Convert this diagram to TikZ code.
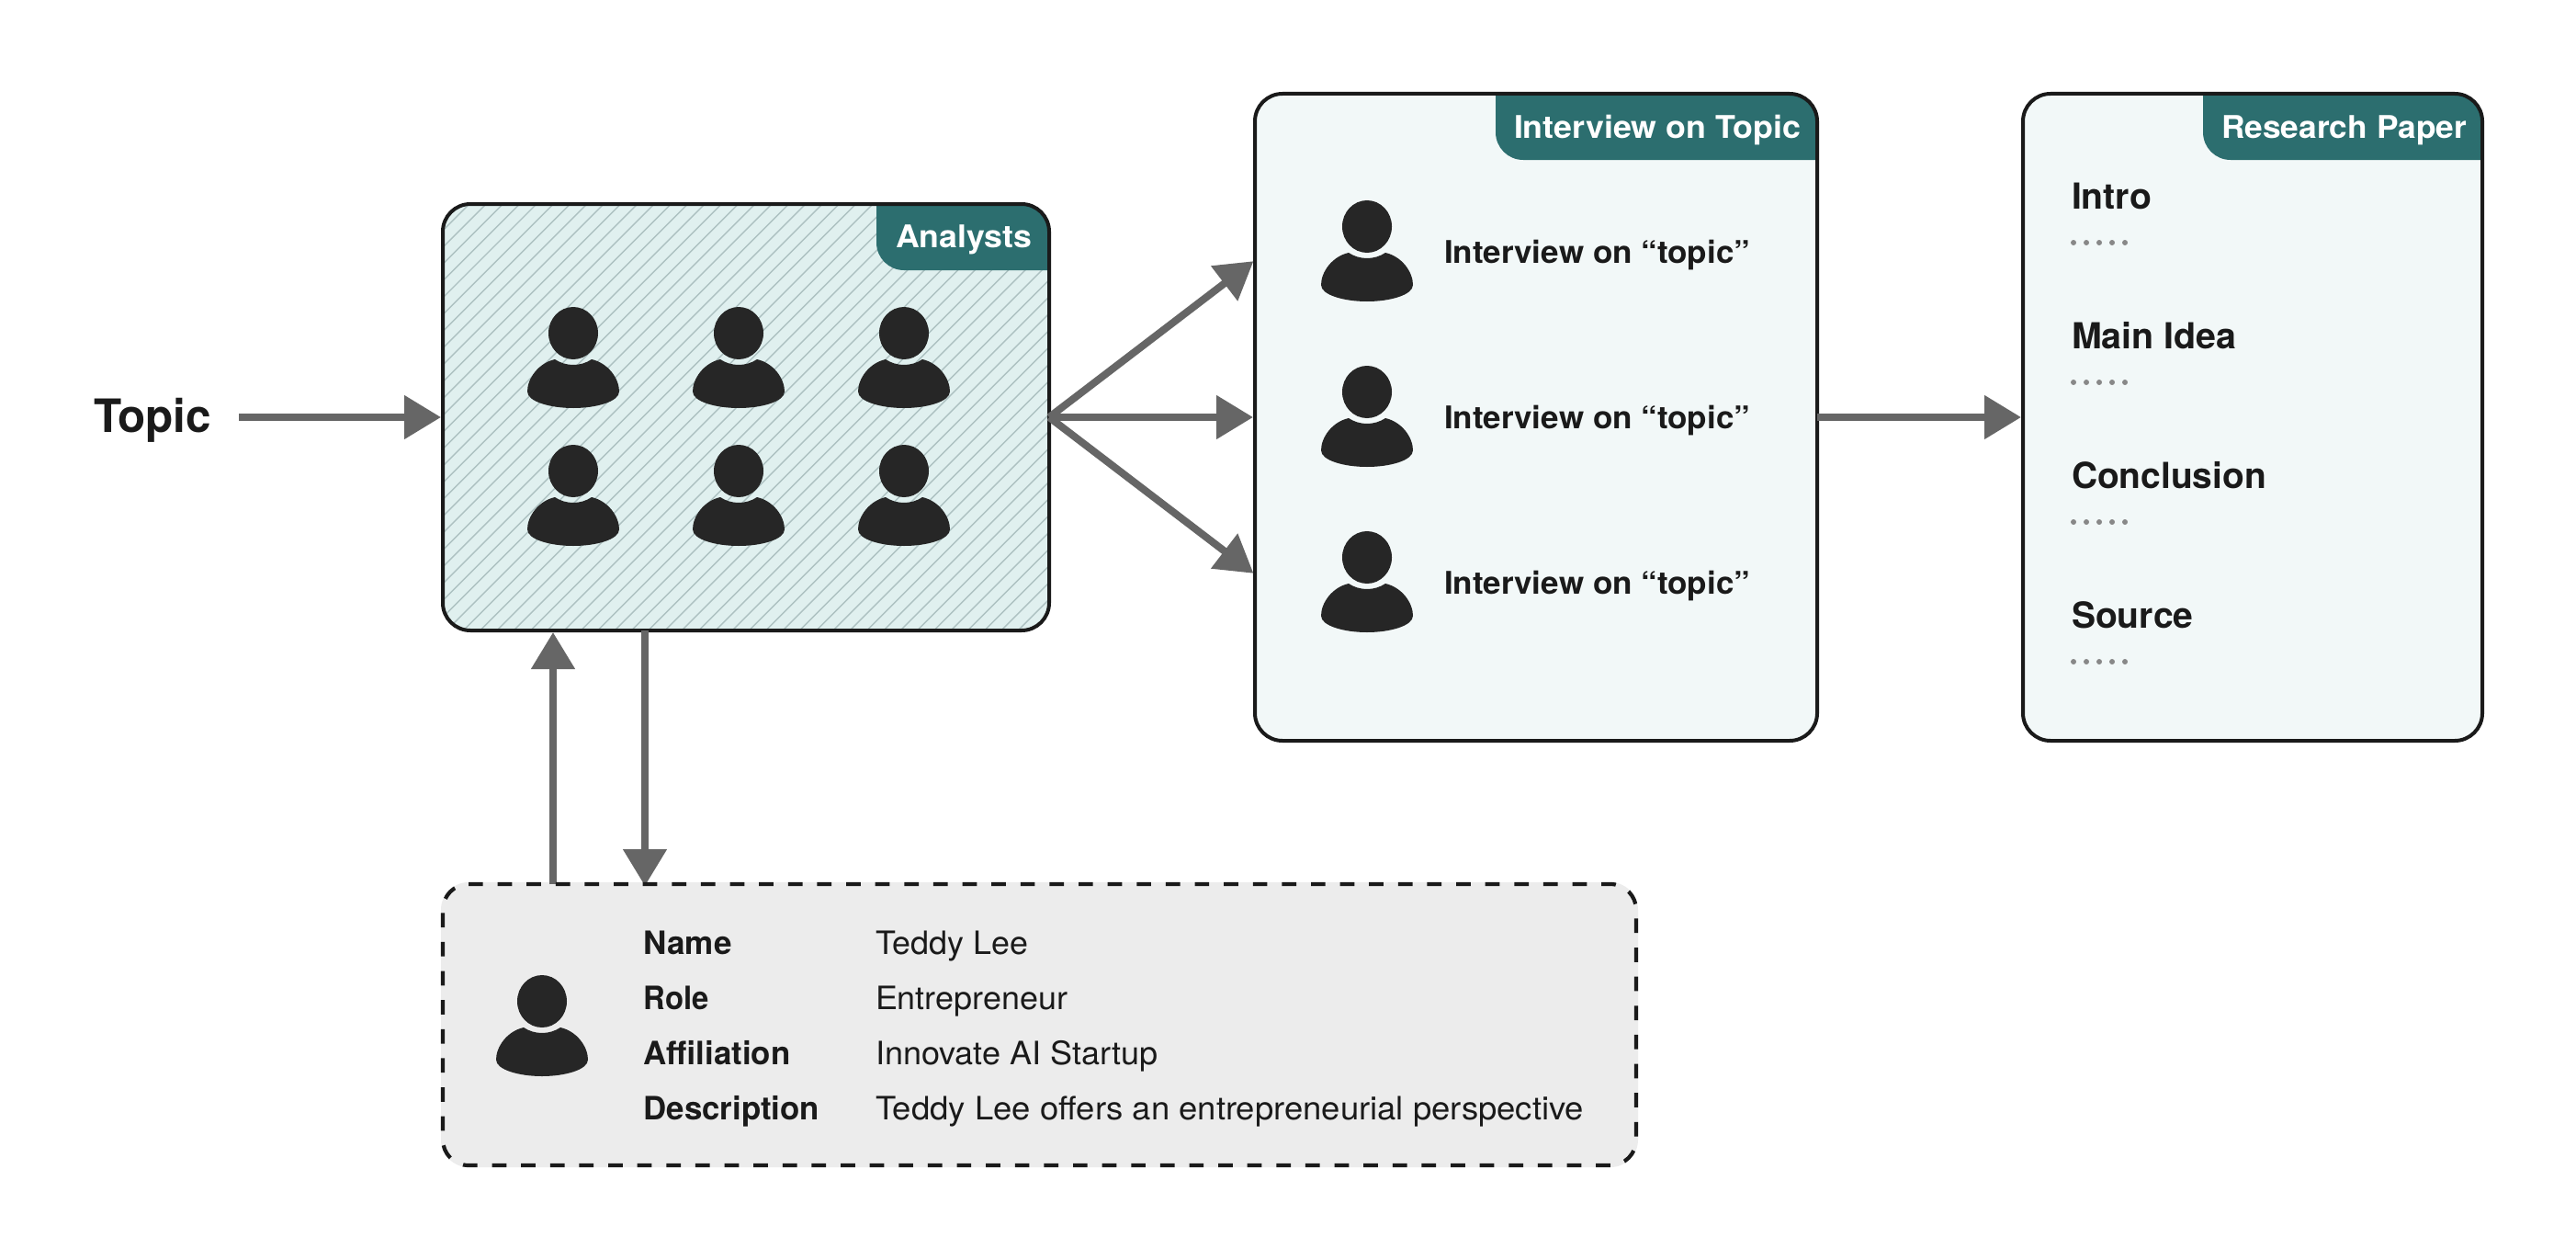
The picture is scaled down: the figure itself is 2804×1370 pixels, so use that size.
\documentclass[tikz,border=0pt]{standalone}
\usepackage{fontspec}
\usepackage{graphicx}
\usetikzlibrary{arrows.meta}
\setmainfont{TeX Gyre Heros}
\newcommand{\semi}{\bfseries}
\definecolor{ink}{HTML}{1A1A1A}
\definecolor{iconc}{HTML}{262626}
\definecolor{tealc}{HTML}{2C6E6F}
\definecolor{paper}{HTML}{F2F8F8}
\definecolor{hatchbg}{HTML}{E0F0EF}
\definecolor{hatchln}{HTML}{ADC1C1}
\definecolor{arrowc}{HTML}{666666}
\definecolor{greyc}{HTML}{ECECEC}
\definecolor{dotc}{HTML}{888888}
\newcommand{\fitw}[3]{\resizebox{#1pt}{\height}{\fontsize{#2}{#2}\selectfont #3}}
\tikzset{
  x=1pt,y=-1pt,
  card/.style={rectangle,rounded corners=30pt,line width=4pt,draw=ink,inner sep=0pt,outer sep=0pt},
  txt/.style={anchor=base west,inner sep=0pt,outer sep=0pt,text=ink},
  tabtxt/.style={anchor=base west,inner sep=0pt,outer sep=0pt,text=white},
  conn/.style={draw=arrowc,line width=8pt,-{Triangle[length=40pt,width=46pt]},shorten >=2pt},
  person/.pic={
    \fill[iconc] (0,28.5) ellipse [x radius=27,y radius=28.5];
    \fill[iconc] (-20,57) .. controls (-8,65) and (8,65) .. (20,57)
      .. controls (38,61) and (50,78) .. (50,92)
      .. controls (50,103) and (25,110) .. (0,110)
      .. controls (-25,110) and (-50,103) .. (-50,92)
      .. controls (-50,78) and (-38,61) .. (-20,57) -- cycle;
  }
}
\begin{document}
\begin{tikzpicture}
\useasboundingbox (0,0) rectangle (2804,1370);
\fill[white] (0,0) rectangle (2804,1370);

% Analysts
\begin{scope}
  \clip[rounded corners=30pt] (482,222) rectangle (1142,686);
  \fill[hatchbg] (482,222) rectangle (1142,686);
  \foreach \k in {0,...,62}{
    \draw[hatchln,line width=1.4pt] ({1143+\k*18.3-18.3*62+8.3},222) -- ++(-470,470);
  }
  \foreach \k in {1,...,30}{
    \draw[hatchln,line width=1.4pt] ({1143+\k*18.3+8.3},222) -- ++(-470,470);
  }
  \fill[tealc] (1150,215) -- (954,215) [rounded corners=30pt] -- (954,294) [sharp corners] -- (1150,294) -- cycle;
\end{scope}
\node[card,minimum width=660pt,minimum height=464pt] (analysts) at (812,454) {};
\node[tabtxt] (analyststab) at (975,269) {\fitw{148}{34}{\semi Analysts}};
\foreach \cx/\nm in {624/a,804/b,984/c}{
  \pic (p1\nm) at (\cx,334) {person};
  \pic (p2\nm) at (\cx,484) {person};
}

% Interview
\begin{scope}
  \clip[rounded corners=30pt] (1366,102) rectangle (1978,806);
  \fill[paper] (1366,102) rectangle (1978,806);
  \fill[tealc] (1985,95) -- (1628,95) [rounded corners=30pt] -- (1628,174) [sharp corners] -- (1985,174) -- cycle;
\end{scope}
\node[card,minimum width=612pt,minimum height=704pt] (interview) at (1672,454) {};
\node[tabtxt] (interviewtab) at (1648,150) {\fitw{312}{34}{\semi Interview on Topic}};
\foreach \yy/\nm in {218/a,398/b,578/c}{
  \pic (q\nm) at (1488,\yy) {person};
}
\node[txt] (i1) at (1572,286) {\fitw{333}{34}{\semi Interview on “topic”}};
\node[txt] (i2) at (1572,466) {\fitw{333}{34}{\semi Interview on “topic”}};
\node[txt] (i3) at (1572,646) {\fitw{333}{34}{\semi Interview on “topic”}};

% Research
\begin{scope}
  \clip[rounded corners=30pt] (2202,102) rectangle (2702,806);
  \fill[paper] (2202,102) rectangle (2702,806);
  \fill[tealc] (2710,95) -- (2398,95) [rounded corners=30pt] -- (2398,174) [sharp corners] -- (2710,174) -- cycle;
\end{scope}
\node[card,minimum width=500pt,minimum height=704pt] (research) at (2452,454) {};
\node[tabtxt] (researchtab) at (2418,150) {\fitw{267}{34}{\semi Research Paper}};
\node[txt] (s1) at (2255,227) {\fitw{87}{39}{\semi Intro}};
\node[txt] (s2) at (2255,379) {\fitw{179.5}{39}{\semi Main Idea}};
\node[txt] (s3) at (2255,531) {\fitw{212}{39}{\semi Conclusion}};
\node[txt] (s4) at (2255,683) {\fitw{132.5}{39}{\semi Source}};
\foreach \yy in {264,416,568,720}{
  \foreach \k in {0,...,4}{
    \fill[dotc] ({2257+14*\k},\yy) circle (3);
  }
}

% Profile
\node[rectangle,rounded corners=30pt,fill=greyc,inner sep=0pt,outer sep=0pt,minimum width=1303pt,minimum height=310pt] (profile) at (1131.5,1115) {};
\pic (pp) at (590,1061) {person};
\node[txt] (l1) at (700.5,1038) {\fitw{96}{35}{\semi Name}};
\node[txt] (l2) at (700.5,1098) {\fitw{71}{35}{\semi Role}};
\node[txt] (l3) at (700.5,1158) {\fitw{160}{35}{\semi Affiliation}};
\node[txt] (l4) at (700.5,1218) {\fitw{191.5}{35}{\semi Description}};
\node[txt] (v1) at (953,1038) {\fitw{166}{35}{Teddy Lee}};
\node[txt] (v2) at (953,1098) {\fitw{209}{35}{Entrepreneur}};
\node[txt] (v3) at (953,1158) {\fitw{307.5}{35}{Innovate AI Startup}};
\node[txt] (v4) at (953,1218) {\fitw{771}{35}{Teddy Lee offers an entrepreneurial perspective}};

% Topic
\node[txt] (topic) at (102,470) {\fitw{128}{50}{\semi Topic}};

% Connectors
\coordinate (topicout) at (260,454);
\coordinate (fantop) at (1366,283);
\coordinate (fanbot) at (1366,625);
\coordinate (upstart) at (602,962);
\coordinate (upend) at (602,686);
\coordinate (downstart) at (702,686);
\coordinate (downend) at (702,966);
\draw[conn] (topicout) -- (analysts.west);
\draw[conn] (analysts.east) -- (fantop);
\draw[conn] (analysts.east) -- (interview.west);
\draw[conn] (analysts.east) -- (fanbot);
\draw[conn] (interview.east) -- (research.west);
\draw[conn] (upstart) -- (upend);
\draw[conn] (downstart) -- (downend);

% dashed outline of the profile box, over the arrows
\draw[ink,line width=4.2pt,dash pattern=on 15.7pt off 15.92pt,rounded corners=28pt] (510,962) -- (1781,962) -- (1781,1268) -- (482,1268) -- (482,962) -- (510,962);
\end{tikzpicture}
\end{document}
